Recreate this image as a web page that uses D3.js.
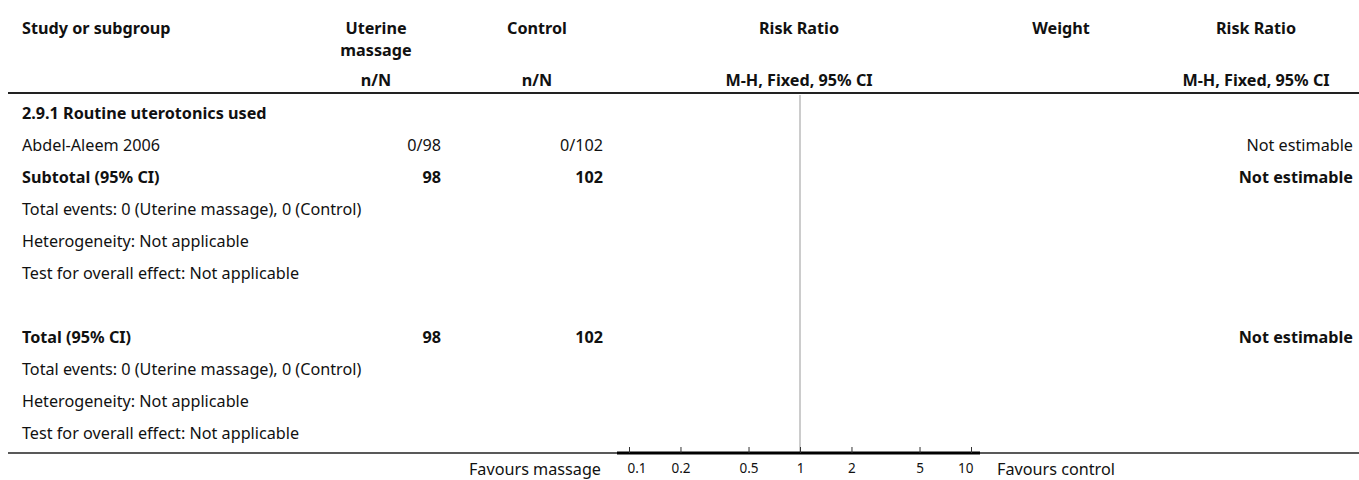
<!DOCTYPE html>
<meta charset="utf-8">
<style>
  body { margin: 0; background: #fff; }
  svg text { font-family: "Noto Sans", "Open Sans", sans-serif; fill: #111; }
</style>
<div id="plot"></div>

<script src="https://cdn.jsdelivr.net/npm/d3@7"></script>

<script>

// column headers
const header_top = ["Study or subgroup", "Uterine", "Control", "Risk Ratio", "Weight", "Risk Ratio"];
const header_sub = ["", "n/N", "n/N", "M-H, Fixed, 95% CI", "", "M-H, Fixed, 95% CI"];

// table rows
const row_labels = [
  "2.9.1 Routine uterotonics used",
  "Abdel-Aleem 2006",
  "Subtotal (95% CI)",
  "Total events: 0 (Uterine massage), 0 (Control)",
  "Heterogeneity: Not applicable",
  "Test for overall effect: Not applicable",
  "",
  "Total (95% CI)",
  "Total events: 0 (Uterine massage), 0 (Control)",
  "Heterogeneity: Not applicable",
  "Test for overall effect: Not applicable"
];
const massage_vals = ["", "0/98", "98", "", "", "", "", "98", "", "", ""];
const control_vals = ["", "0/102", "102", "", "", "", "", "102", "", "", ""];
const effect_vals = ["", "Not estimable", "Not estimable", "", "", "", "", "Not estimable", "", "", ""];
const row_bold = [true, false, true, false, false, false, false, true, false, false, false];

// risk ratio axis
const rr_ticks = [0.1, 0.2, 0.5, 1, 2, 5, 10];
const favours = ["Favours massage", "Favours control"];

const width = 1359, height = 480;
const fs_body = 16.2, fs_bold = 16.2;

const svg = d3.select("#plot").append("svg")
  .attr("width", width)
  .attr("height", height);

// x positions of columns
const col = {study: 22, massage_c: 376, control_c: 537, massage: 441, control: 603,
             rr: 799, weight: 1061, rr2: 1256, right: 1353};

// row positions
const row_y = d3.scaleLinear().domain([0, 10]).range([113, 433]);

// header
const head = svg.append("g").attr("font-weight", "bold").attr("font-size", fs_bold);
function headText(x, y, s, anchor) {
  head.append("text").attr("x", x).attr("y", y).attr("text-anchor", anchor || "middle").text(s);
}
headText(col.study, 34, header_top[0], "start");
headText(col.massage_c, 34, header_top[1]);
headText(col.massage_c, 56, "massage");
headText(col.control_c, 34, header_top[2]);
headText(col.rr, 34, header_top[3]);
headText(col.weight, 34, header_top[4]);
headText(col.rr2, 34, header_top[5]);
headText(col.massage_c, 86, header_sub[1]);
headText(col.control_c, 86, header_sub[2]);
headText(col.rr, 86, header_sub[3]);
headText(col.rr2, 86, header_sub[5]);

svg.append("line")
  .attr("x1", 8).attr("x2", width)
  .attr("y1", 93).attr("y2", 93)
  .attr("stroke", "#222").attr("stroke-width", 2);

// scale for risk ratio
const x = d3.scaleLog().domain([0.1, 10]).range([629, 971]);
const axis_y = 453;

// line of no effect
svg.append("line")
  .attr("x1", x(1)).attr("x2", x(1))
  .attr("y1", 95).attr("y2", axis_y)
  .attr("stroke", "#999").attr("stroke-width", 1);

// rows
const rows = svg.append("g");
row_labels.forEach(function(lab, i) {
  const y = row_y(i) + 5.5;
  const w = row_bold[i] ? "bold" : "normal";
  const fs = row_bold[i] ? fs_bold : fs_body;
  [[col.study, "start", lab], [col.massage, "end", massage_vals[i]],
   [col.control, "end", control_vals[i]], [col.right, "end", effect_vals[i]]].forEach(function(c) {
    if (!c[2]) return;
    rows.append("text")
      .attr("x", c[0]).attr("y", y)
      .attr("text-anchor", c[1])
      .attr("font-weight", w).attr("font-size", fs)
      .text(c[2]);
  });
});

// bottom rule
svg.append("line")
  .attr("x1", 8).attr("x2", width)
  .attr("y1", axis_y).attr("y2", axis_y)
  .attr("stroke", "#222").attr("stroke-width", 1.5);

// thicker axis segment
svg.append("line")
  .attr("x1", x(0.1) - 12).attr("x2", x(10) + 9)
  .attr("y1", axis_y).attr("y2", axis_y)
  .attr("stroke", "#000").attr("stroke-width", 3);

// axis
const axis = svg.append("g")
  .attr("transform", "translate(0," + axis_y + ")")
  .call(d3.axisBottom(x)
    .tickValues(rr_ticks)
    .tickFormat(d3.format("~g"))
    .tickSizeInner(-6)
    .tickSizeOuter(0)
    .tickPadding(10));
axis.select(".domain").remove();
axis.selectAll(".tick line").attr("stroke", "#333");
axis.selectAll(".tick text")
  .attr("font-family", '"Noto Sans", "Open Sans", sans-serif')
  .attr("font-size", 13.5).attr("fill", "#111")
  .attr("text-anchor", function(d, i) {
    return i === 0 ? "start" : (i === rr_ticks.length - 1 ? "end" : "middle");
  })
  .attr("dx", function(d, i) { return i === 0 ? -2 : (i === rr_ticks.length - 1 ? 2 : 0); });

svg.append("text").attr("x", 601).attr("y", 475).attr("text-anchor", "end").attr("font-size", fs_body).text(favours[0]);
svg.append("text").attr("x", 997).attr("y", 475).attr("font-size", fs_body).text(favours[1]);

</script>
